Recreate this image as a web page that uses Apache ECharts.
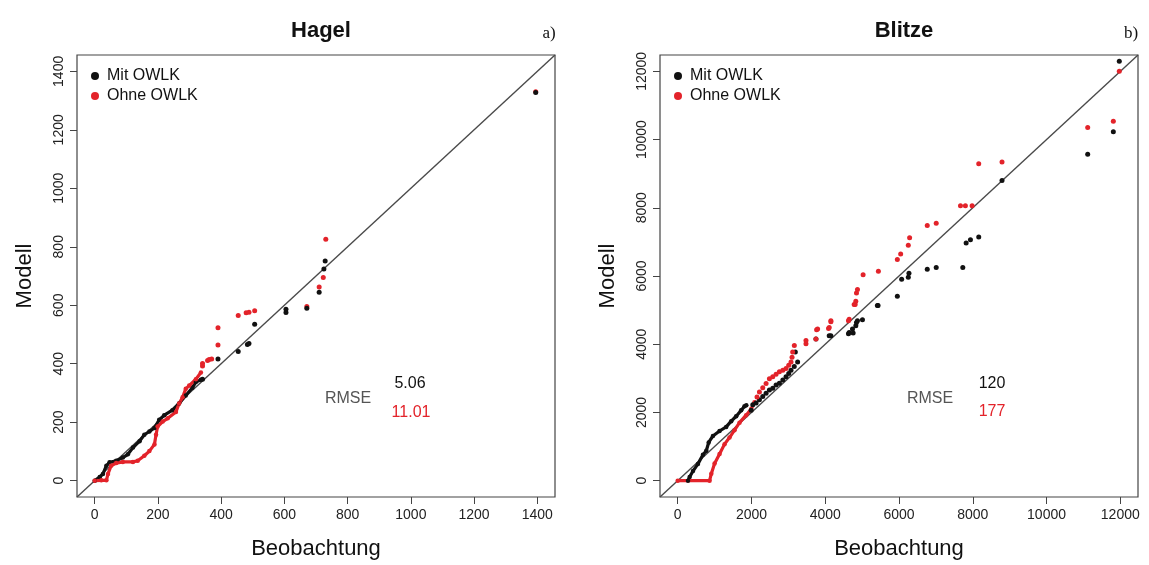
<!DOCTYPE html>
<html>
<head>
<meta charset="utf-8">
<script src="https://cdn.jsdelivr.net/npm/echarts@6/dist/echarts.min.js"></script>
<style>
html,body{margin:0;padding:0;background:#fff;}
#chart{width:1149px;height:565px;}
</style>
</head>
<body>
<div id="chart"></div>
<script>
// ---------- data ----------
const hagelTicks = [0, 200, 400, 600, 800, 1000, 1200, 1400];
const blitzeTicks = [0, 2000, 4000, 6000, 8000, 10000, 12000];
const hagelLimits = [-56, 1456];
const blitzeLimits = [-480, 12480];

// Hagel: "Mit OWLK" (black), dense part and single points
const hagelMitLine = [[0,0],[16,12],[26,23],[37,51],[47,63],[68,68],[89,79],[105,90],[121,113],[142,135],[157,157],[173,168],[189,180],[204,208],[220,224],[246,241],[267,264],[288,291],[309,318],[320,337],[336,345]];
const hagelMitPts = [[341,347],[390,416],[454,442],[483,466],[488,469],[506,535],[605,575],[605,586],[671,590],[710,644],[725,724],[729,751],[1395,1328]];
// Hagel: "Ohne OWLK" (red)
const hagelOhneLine = [[0,0],[21,1],[37,1],[42,23],[52,51],[68,60],[89,64],[121,64],[136,68],[157,85],[173,101],[189,124],[194,157],[199,185],[215,202],[231,213],[257,235],[267,264],[278,285],[288,314],[299,325],[320,347],[336,370]];
const hagelOhnePts = [[341,392],[341,401],[357,411],[362,414],[370,416],[390,464],[390,523],[454,565],[479,574],[488,576],[506,581],[671,596],[710,662],[723,695],[731,826],[1395,1330]];

// Blitze: "Mit OWLK" (black)
const blitzeMitLine = [[279,0],[324,106],[414,280],[549,491],[685,760],[775,877],[840,1119],[955,1311],[1135,1455],[1315,1575],[1451,1744],[1586,1888],[1721,2060],[1811,2178],[1860,2210]];
const blitzeMitPts = [[1992,2060],[2036,2227],[2126,2276],[2216,2370],[2306,2467],[2396,2565],[2486,2660],[2577,2709],[2667,2805],[2757,2854],[2850,2950],[2937,3045],[3010,3140],[3072,3239],[3160,3350],[3252,3479],[3189,3768],[3748,4155],[4108,4251],[4153,4251],[4630,4309],[4649,4347],[4739,4445],[4757,4329],[4829,4540],[4847,4636],[4874,4685],[5009,4714],[5414,5138],[5432,5138],[5955,5408],[6072,5908],[6252,5966],[6270,6082],[6766,6198],[7009,6246],[7730,6246],[7820,6969],[7937,7066],[8162,7143],[8793,8800],[11116,9572],[11811,10228],[11973,12300]];
// Blitze: "Ohne OWLK" (red)
const blitzeOhneLine = [[0,0],[865,0],[911,202],[1000,500],[1135,781],[1270,1070],[1405,1263],[1540,1480],[1676,1700],[1856,1920],[1992,2100],[2081,2300]];
const blitzeOhnePts = [[2150,2450],[2216,2600],[2306,2720],[2396,2850],[2486,2990],[2577,3045],[2667,3120],[2757,3190],[2850,3240],[2937,3288],[3010,3380],[3072,3479],[3100,3620],[3117,3768],[3162,3962],[3478,4010],[3478,4106],[3748,4155],[3766,4425],[3793,4445],[4090,4463],[4108,4492],[4153,4656],[4153,4685],[4630,4685],[4649,4734],[4784,5168],[4811,5168],[4829,5263],[4847,5503],[4874,5601],[5027,6035],[5441,6140],[5955,6487],[6045,6642],[6252,6902],[6288,7123],[6766,7480],[7009,7548],[7667,8060],[7800,8060],[7982,8060],[8162,9293],[8793,9341],[11116,10352],[11811,10535],[11973,12001]];

const panelTitles = ['Hagel', 'Blitze'];
const panelTags = ['a)', 'b)'];
const legendLabels = ['Mit OWLK', 'Ohne OWLK'];
const rmseHagel = ['5.06', '11.01'];
const rmseBlitze = ['120', '177'];

// ---------- styling ----------
const BLACK = '#111111';
const RED = '#e3232a';
const BOX = '#444444';
const FONT = 'Liberation Sans, Arial, Helvetica, sans-serif';
const grids = [
  {left: 77, top: 55, width: 478, height: 448},
  {left: 660, top: 55, width: 478, height: 448}
];
const plain = v => String(v);

function xAxis(i, lim, ticks) {
  return {
    type: 'value', gridIndex: i, min: lim[0], max: lim[1],
    name: 'Beobachtung', nameLocation: 'middle', nameGap: 41,
    nameTextStyle: {fontSize: 22, color: '#111', fontFamily: FONT},
    axisLine: {show: false, onZero: false},
    axisTick: {show: true, customValues: ticks, length: 7, lineStyle: {color: BOX}},
    axisLabel: {customValues: ticks, formatter: plain, fontSize: 14, color: '#222', margin: 11, fontFamily: FONT},
    splitLine: {show: false}
  };
}
function yAxis(i, lim, ticks) {
  return {
    type: 'value', gridIndex: i, min: lim[0], max: lim[1],
    name: 'Modell', nameLocation: 'middle', nameGap: 41,
    nameTextStyle: {fontSize: 22, color: '#111', fontFamily: FONT},
    axisLine: {show: false, onZero: false},
    axisTick: {show: true, customValues: ticks, length: 7, lineStyle: {color: BOX}},
    axisLabel: {customValues: ticks, formatter: plain, fontSize: 14, color: '#222', margin: 11, rotate: 90, fontFamily: FONT},
    splitLine: {show: false}
  };
}
function lineSeries(name, i, data, color) {
  return {
    name: name, type: 'line', xAxisIndex: i, yAxisIndex: i, data: data,
    symbol: 'circle', symbolSize: 4.5, showSymbol: true,
    itemStyle: {color: color, opacity: 1}, lineStyle: {color: color, width: 3.2},
    emphasis: {disabled: true}, silent: true, animation: false, z: 3
  };
}
function scatterSeries(name, i, data, color) {
  return {
    name: name, type: 'scatter', xAxisIndex: i, yAxisIndex: i, data: data,
    symbol: 'circle', symbolSize: 5, itemStyle: {color: color, opacity: 1},
    emphasis: {disabled: true}, silent: true, animation: false, z: 4
  };
}
function diag(i, lim) {
  return {
    type: 'line', xAxisIndex: i, yAxisIndex: i,
    data: [[lim[0], lim[0]], [lim[1], lim[1]]],
    showSymbol: false, lineStyle: {color: '#4a4a4a', width: 1.4},
    silent: true, animation: false, z: 2
  };
}
const nameMap = {mitA: legendLabels[0], ohneA: legendLabels[1], mitB: legendLabels[0], ohneB: legendLabels[1]};
function legend(left, names) {
  return {
    orient: 'vertical', left: left, top: 63, data: names, icon: 'circle',
    itemWidth: 8, itemHeight: 8, itemGap: 4, selectedMode: false,
    textStyle: {fontSize: 16, color: '#111', fontFamily: FONT, padding: [0,0,0,3]},
    formatter: n => nameMap[n]
  };
}
function txt(x, y, s, color, size, family) {
  return {type: 'text', style: {x: x, y: y, text: s, fill: color, fontSize: size, fontFamily: family || FONT, align: 'center', verticalAlign: 'middle'}, silent: true};
}

const chart = echarts.init(document.getElementById('chart'), null, {renderer: 'canvas'});
chart.setOption({
  backgroundColor: '#ffffff',
  animation: false,
  title: [
    {text: panelTitles[0], left: 316, top: 15, textAlign: 'center', textStyle: {fontSize: 22, fontWeight: 'bold', color: '#111', fontFamily: FONT}},
    {text: panelTitles[1], left: 899, top: 15, textAlign: 'center', textStyle: {fontSize: 22, fontWeight: 'bold', color: '#111', fontFamily: FONT}}
  ],
  grid: grids.map(g => Object.assign({show: true, borderColor: BOX, borderWidth: 1.2, backgroundColor: 'transparent', containLabel: false}, g)),
  xAxis: [xAxis(0, hagelLimits, hagelTicks), xAxis(1, blitzeLimits, blitzeTicks)],
  yAxis: [yAxis(0, hagelLimits, hagelTicks), yAxis(1, blitzeLimits, blitzeTicks)],
  legend: [legend(86, ['mitA', 'ohneA']), legend(669, ['mitB', 'ohneB'])],
  series: [
    diag(0, hagelLimits), diag(1, blitzeLimits),
    lineSeries('mitA', 0, hagelMitLine, BLACK), lineSeries('ohneA', 0, hagelOhneLine, RED),
    scatterSeries('ohneA', 0, hagelOhnePts, RED), scatterSeries('mitA', 0, hagelMitPts, BLACK),
    lineSeries('mitB', 1, blitzeMitLine, BLACK), lineSeries('ohneB', 1, blitzeOhneLine, RED),
    scatterSeries('mitB', 1, blitzeMitPts, BLACK), scatterSeries('ohneB', 1, blitzeOhnePts, RED)
  ],
  graphic: [
    txt(549, 34, panelTags[0], '#111', 17, 'Liberation Serif, Times New Roman, serif'),
    txt(1131, 34, panelTags[1], '#111', 17, 'Liberation Serif, Times New Roman, serif'),
    txt(348, 399, 'RMSE', '#555', 16),
    txt(410, 384, rmseHagel[0], BLACK, 16),
    txt(411, 413, rmseHagel[1], RED, 16),
    txt(930, 399, 'RMSE', '#555', 16),
    txt(992, 384, rmseBlitze[0], BLACK, 16),
    txt(992, 412, rmseBlitze[1], RED, 16)
  ]
});
</script>
</body>
</html>
